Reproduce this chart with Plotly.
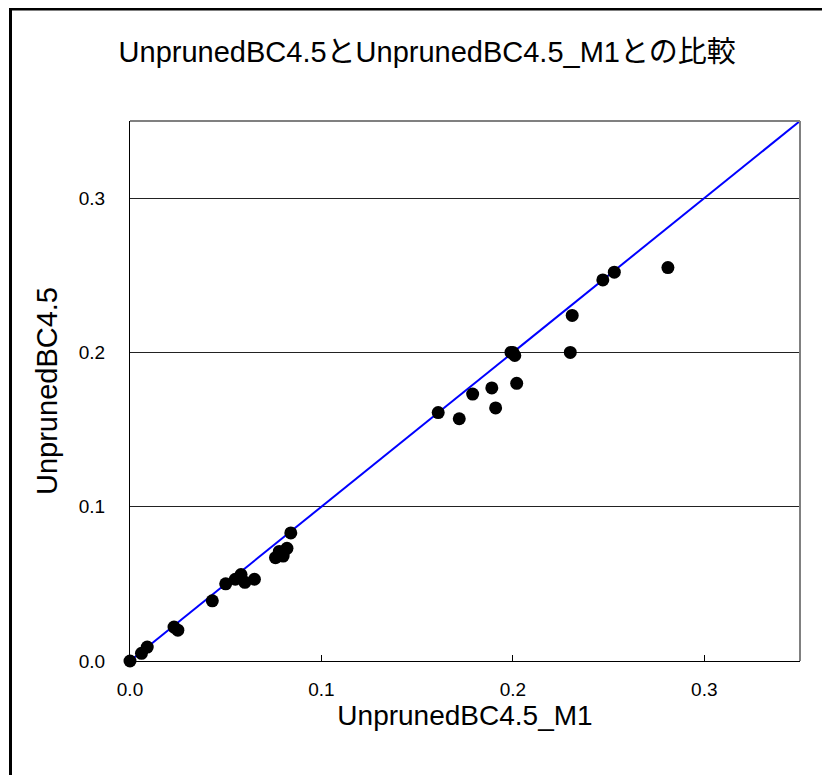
import plotly.graph_objects as go

title_text = "UnprunedBC4.5とUnprunedBC4.5_M1との比較"
x_title = "UnprunedBC4.5_M1"
y_title = "UnprunedBC4.5"

m1_values = [0.000, 0.006, 0.009, 0.023, 0.025, 0.043, 0.050, 0.055, 0.058, 0.060,
             0.065, 0.076, 0.078, 0.080, 0.082, 0.084, 0.161, 0.172, 0.179, 0.189,
             0.191, 0.199, 0.200, 0.201, 0.202, 0.230, 0.231, 0.247, 0.253, 0.281]
base_values = [0.000, 0.005, 0.009, 0.022, 0.020, 0.039, 0.050, 0.053, 0.056, 0.051,
               0.053, 0.067, 0.071, 0.068, 0.073, 0.083, 0.161, 0.157, 0.173, 0.177,
               0.164, 0.200, 0.200, 0.198, 0.180, 0.200, 0.224, 0.247, 0.252, 0.255]
diag = [0.0, 0.35]
tick_vals = [0.0, 0.1, 0.2, 0.3]
tick_text = ["0.0", "0.1", "0.2", "0.3"]

FONT = "Liberation Sans, Arial, Noto Sans CJK JP"

fig = go.Figure()
fig.add_trace(go.Scatter(x=diag, y=diag, mode="lines",
                         line=dict(color="#0000FF", width=2), hoverinfo="skip"))
fig.add_trace(go.Scatter(x=m1_values, y=base_values, mode="markers",
                         marker=dict(color="black", size=13), cliponaxis=False))

fig.update_layout(
    width=830, height=775,
    margin=dict(l=122, r=38, t=113, b=122),
    paper_bgcolor="white", plot_bgcolor="white",
    showlegend=False,
    title=dict(text=title_text, x=0.505, xanchor="center", y=1 - 44 / 775,
               yanchor="middle", yref="container",
               font=dict(family=FONT, size=29, color="black")),
    xaxis=dict(range=[0, 0.35], tickvals=tick_vals, ticktext=tick_text,
               showgrid=False, zeroline=False, showline=True, linecolor="black",
               linewidth=1, ticks="inside", ticklen=6, tickcolor="black",
               ticklabelstandoff=11,
               tickfont=dict(family=FONT, size=19, color="black"),
               title=dict(text=x_title, standoff=2,
                          font=dict(family=FONT, size=28, color="black"))),
    yaxis=dict(range=[0, 0.35], tickvals=tick_vals, ticktext=tick_text,
               showgrid=True, gridcolor="#222222", gridwidth=1,
               zeroline=False, showline=True, linecolor="black", linewidth=1,
               ticks="", ticklabelstandoff=20,
               tickfont=dict(family=FONT, size=19, color="black"),
               title=dict(text=y_title, standoff=12,
                          font=dict(family=FONT, size=29, color="black"))),
    shapes=[
        dict(type="line", xref="paper", yref="paper", x0=0, x1=1, y0=1, y1=1,
             line=dict(color="#808080", width=2)),
        dict(type="line", xref="paper", yref="paper", x0=1, x1=1, y0=0, y1=1,
             line=dict(color="#808080", width=2)),
        dict(type="rect", xref="paper", yref="paper",
             x0=(2.5 - 122) / 670, x1=2.0, y0=-1.0, y1=(653 - 1) / 540,
             line=dict(color="black", width=3), layer="below"),
    ],
)

fig.write_html("out.html")
